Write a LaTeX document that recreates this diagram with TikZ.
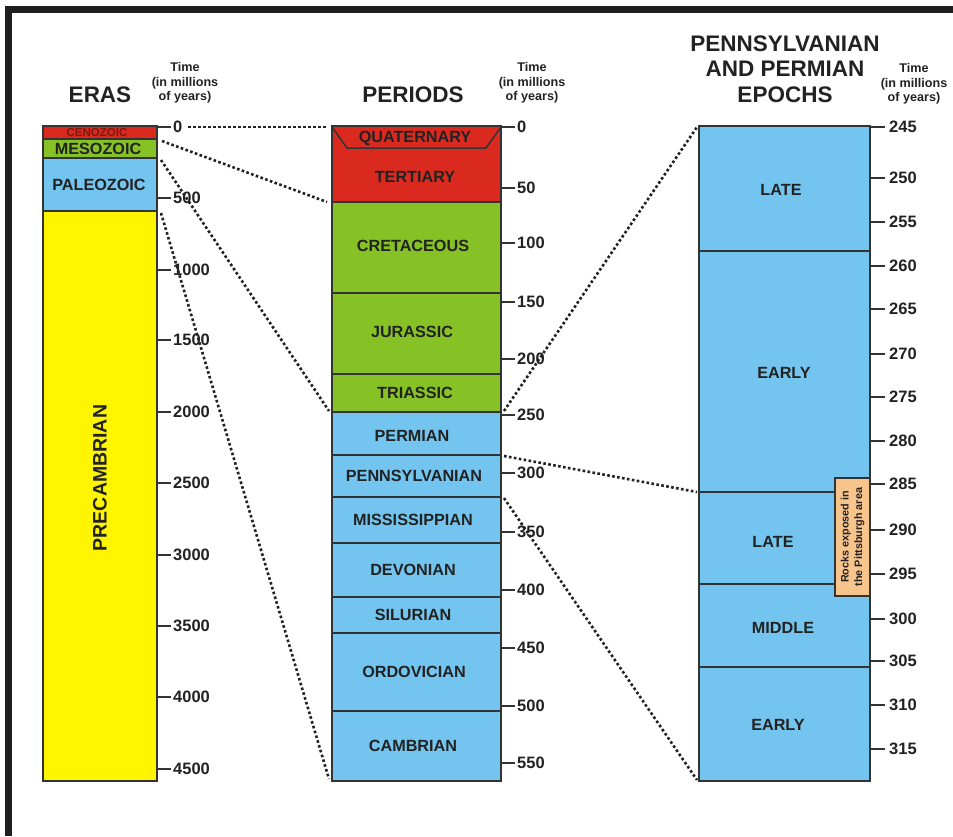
\documentclass[tikz,border=0pt]{standalone}
\usepackage{fontspec}
\setmainfont{Liberation Sans}
\definecolor{cred}{HTML}{DA2A1F}
\definecolor{cgreen}{HTML}{86C226}
\definecolor{cblue}{HTML}{73C5EF}
\definecolor{cyellow}{HTML}{FFF500}
\definecolor{corange}{HTML}{F7C48C}
\definecolor{edge}{HTML}{333333}
\definecolor{txt}{HTML}{222222}
\definecolor{cenotxt}{HTML}{7A1A12}
\begin{document}
\begin{tikzpicture}[x=1pt,y=-1pt,
  outline/.style={draw=edge, line width=1.8pt},
  sep/.style={draw=edge, line width=1.8pt},
  lbl/.style={font=\bfseries\fontsize{16.2}{18}\selectfont, text=txt, inner sep=0pt},
  tickline/.style={draw=edge, line width=1.8pt},
  ticklbl/.style={font=\bfseries\fontsize{16.5}{18}\selectfont, text=txt, anchor=west, inner sep=0pt},
  head/.style={font=\bfseries\fontsize{22.5}{25.5}\selectfont, text=txt, align=center, inner sep=0pt},
  timelbl/.style={font=\bfseries\fontsize{12.6}{14.5}\selectfont, text=txt, align=center, inner sep=0pt},
  dots/.style={draw=txt, line width=2.6pt, dash pattern=on 2.6pt off 2.4pt}]
\useasboundingbox (0,0) rectangle (953,836);
\fill[white] (0,0) rectangle (953,836);
% frame
\fill[black!88] (5,6) rectangle (953,13);
\fill[black!88] (5,6) rectangle (12,836);

% ===== ERAS =====
\fill[cred] (43,126) rectangle (157,139);
\fill[cgreen] (43,139) rectangle (157,158);
\fill[cblue] (43,158) rectangle (157,211);
\fill[cyellow] (43,211) rectangle (157,781);
\draw[sep] (43,139) -- (157,139) (43,158) -- (157,158) (43,211) -- (157,211);
\draw[outline] (43,126) rectangle (157,781);
\node[lbl, text=cenotxt, font=\bfseries\fontsize{11.5}{12}\selectfont] (ceno) at (97,132.5) {CENOZOIC};
\node[lbl] (meso) at (98,149) {MESOZOIC};
\node[lbl] (paleo) at (99,185) {PALEOZOIC};
\node[lbl, rotate=90, font=\bfseries\fontsize{19.5}{21}\selectfont] (precam) at (100,478) {PRECAMBRIAN};

\foreach \v/\yy in {0/127,500/198,1000/270,1500/340,2000/412,2500/483,3000/555,3500/626,4000/697,4500/769}{
  \draw[tickline] (157,\yy) -- (171,\yy);
  \node[ticklbl] (et\v) at (173,\yy) {\v};
}
\node[head] (erash) at (100,95) {ERAS};
\node[timelbl] (erast) at (185,83) {Time\\(in millions\\of years)};

% ===== PERIODS =====
\fill[cred] (332,126) rectangle (501,202);
\fill[cgreen] (332,202) rectangle (501,412);
\fill[cblue] (332,412) rectangle (501,781);
\draw[draw=edge, line width=1.5pt] (332,127) -- (347,148) -- (486,148) -- (501,127);
\draw[sep] (332,202) -- (501,202) (332,293) -- (501,293) (332,374) -- (501,374)
  (332,412) -- (501,412) (332,455) -- (501,455) (332,497) -- (501,497)
  (332,543) -- (501,543) (332,597) -- (501,597) (332,633) -- (501,633)
  (332,711) -- (501,711);
\draw[outline] (332,126) rectangle (501,781);
\node[lbl] (quat) at (415,138) {QUATERNARY};
\node[lbl] (tert) at (415,177) {TERTIARY};
\node[lbl] (cret) at (413,246) {CRETACEOUS};
\node[lbl] (jur) at (412,332) {JURASSIC};
\node[lbl] (tri) at (415,393) {TRIASSIC};
\node[lbl] (perm) at (412,436) {PERMIAN};
\node[lbl] (penn) at (414,476) {PENNSYLVANIAN};
\node[lbl] (miss) at (413,520) {MISSISSIPPIAN};
\node[lbl] (dev) at (413,570) {DEVONIAN};
\node[lbl] (sil) at (413,615) {SILURIAN};
\node[lbl] (ord) at (414,672) {ORDOVICIAN};
\node[lbl] (camb) at (413,746) {CAMBRIAN};

\foreach \v/\yy in {0/127,50/188,100/243,150/302,200/359,250/415,300/473,350/532,400/590,450/648,500/706,550/763}{
  \draw[tickline] (501,\yy) -- (515,\yy);
  \node[ticklbl] (pt\v) at (517,\yy) {\v};
}
\node[head] (perh) at (413,95) {PERIODS};
\node[timelbl] (pert) at (532,83) {Time\\(in millions\\of years)};

% ===== EPOCHS =====
\fill[cblue] (699,126) rectangle (870,781);
\draw[sep] (699,251) -- (870,251) (699,492) -- (835,492) (699,584) -- (835,584) (699,667) -- (870,667);
\draw[outline] (699,126) rectangle (870,781);
\draw[draw=edge, line width=1.8pt, fill=corange] (835,478) rectangle (870,596);
\node[lbl, rotate=90, align=center, font=\bfseries\fontsize{10.8}{13.5}\selectfont] (rocks) at (852.5,537) {Rocks exposed in\\the Pittsburgh area};
\node[lbl] (late1) at (781,190) {LATE};
\node[lbl] (early1) at (784,373) {EARLY};
\node[lbl] (late2) at (773,542) {LATE};
\node[lbl] (middle) at (783,628) {MIDDLE};
\node[lbl] (early2) at (778,725) {EARLY};

\foreach \v/\yy in {245/127,250/178,255/222,260/266,265/309,270/354,275/397,280/441,285/484,290/530,295/574,300/619,305/661,310/705,315/749}{
  \draw[tickline] (870,\yy) -- (885,\yy);
  \node[ticklbl] (pp\v) at (889,\yy) {\v};
}
\node[head] (eph) at (785,69) {PENNSYLVANIAN\\AND PERMIAN\\EPOCHS};
\node[timelbl] (ept) at (914,84) {Time\\(in millions\\of years)};

% ===== dotted connectors =====
\coordinate (e0) at (188,127); \coordinate (p0) at (326,127);
\coordinate (e1) at (162,141); \coordinate (p1) at (327,202);
\coordinate (e2) at (161,160); \coordinate (p2) at (329,411);
\coordinate (e3) at (161,213); \coordinate (p3) at (329,779);
\coordinate (q1) at (504,411); \coordinate (r0) at (697,127);
\coordinate (q2) at (504,456); \coordinate (r1) at (697,492);
\coordinate (q3) at (504,498); \coordinate (r2) at (697,780);
\draw[dots] (e0) -- (p0);
\draw[dots] (e1) -- (p1);
\draw[dots] (e2) -- (p2);
\draw[dots] (e3) -- (p3);
\draw[dots] (q1) -- (r0);
\draw[dots] (q2) -- (r1);
\draw[dots] (q3) -- (r2);
\end{tikzpicture}
\end{document}
